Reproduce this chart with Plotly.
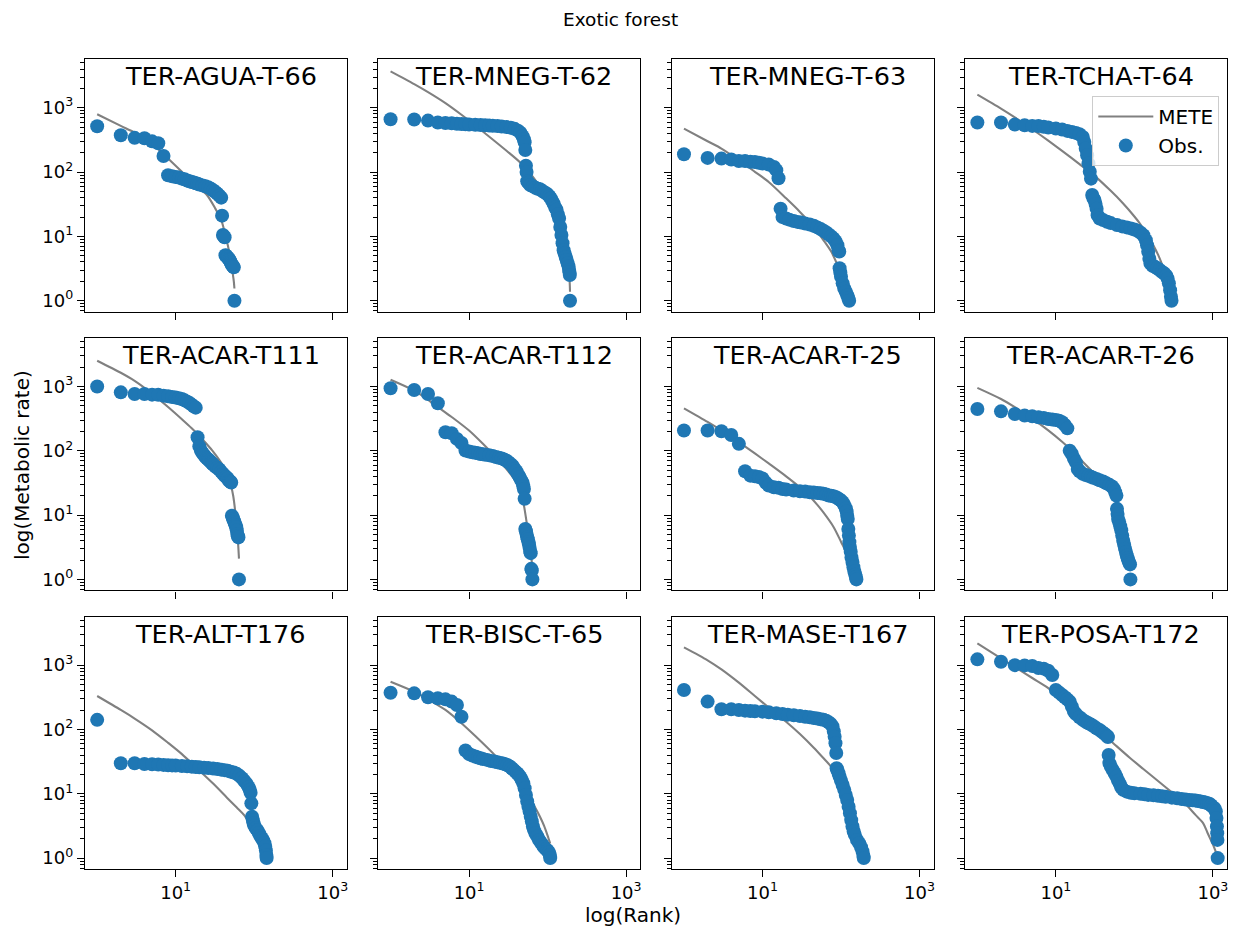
import plotly.graph_objects as go

# ---------------------------------------------------------------------------
# Ranked metabolic rates per plot (observed) and the METE prediction
# ---------------------------------------------------------------------------
plot_names = [
    "TER-AGUA-T-66", "TER-MNEG-T-62", "TER-MNEG-T-63", "TER-TCHA-T-64",
    "TER-ACAR-T111", "TER-ACAR-T112", "TER-ACAR-T-25", "TER-ACAR-T-26",
    "TER-ALT-T176", "TER-BISC-T-65", "TER-MASE-T167", "TER-POSA-T172",
]

agua66_rank = [1, 2, 3, 4, 5, 6, 7, 8, 9, 10, 11, 12, 13, 14, 15, 16, 17, 18, 19, 20,
               22, 24, 26, 28, 30, 32, 34, 36, 38, 39, 40, 41, 42, 43, 44, 45, 46, 47,
               48, 49, 50, 51, 52, 53, 54, 55, 56]
agua66_rate = [515, 374, 340, 335, 300, 280, 178, 89, 86, 84, 82, 79, 77, 74, 72, 70, 69, 67, 66, 64,
               62, 60, 58, 55, 52, 49, 46, 43, 40, 21, 10.5, 10, 9.7, 5.1, 5.0, 4.8, 4.7, 4.5,
               4.4, 4.2, 4.0, 3.8, 3.6, 3.5, 3.4, 3.3, 1.0]
agua66_mete_rank = [1, 2, 3, 5, 8, 12, 18, 25, 32, 38, 44, 48, 52, 55, 56]
agua66_mete_rate = [792, 522, 411, 277, 162, 101, 63, 44, 27, 18, 9.3, 5.8, 3.2, 2.0, 1.55]

mneg62_rank = [1, 2, 3, 4, 5, 6, 7, 8, 9, 10, 12, 14, 16, 18, 20, 23, 26, 30, 34, 38, 42, 45, 48, 50,
               51, 52, 53, 54, 55, 57, 60, 65, 70, 75, 80, 85, 90, 95, 100, 105, 110, 115, 120,
               125, 130, 135, 140, 145, 150, 155, 160, 165, 170, 175, 180, 185, 188, 190, 192, 193]
mneg62_rate = [662, 655, 631, 590, 580, 572, 565, 560, 555, 550, 545, 540, 535, 530, 525, 518, 510, 500,
               490, 470, 440, 410, 360, 320, 290, 220, 125, 100, 72, 68, 63, 60, 57, 55, 54, 51, 49, 47,
               45, 42, 39, 35, 32, 28, 26, 22, 19, 14, 10.5, 7.8, 6.1, 5.4, 4.8, 4.3, 3.8, 3.4, 3.0,
               2.8, 2.5, 1.0]
mneg62_mete_rank = [1, 2, 3, 5, 8, 12, 20, 30, 45, 60, 80, 100, 130, 160, 180, 190, 193]
mneg62_mete_rate = [3680, 2330, 1750, 1180, 778, 530, 321, 214, 140, 95, 59, 39, 20, 8.2, 4.0, 2.2, 1.38]

mneg63_rank = [1, 2, 3, 4, 5, 6, 7, 8, 9, 10, 12, 14, 15, 16, 17, 18, 20, 22, 25, 28, 31, 35, 40,
               45, 50, 55, 60, 65, 70, 75, 80, 85, 90, 93, 95, 96, 98, 100, 105, 110, 115, 120,
               124, 127]
mneg63_rate = [189, 166, 162, 157, 148, 148, 144, 143, 139, 136, 131, 120, 107, 80, 27, 20, 19, 18.2,
               17.3, 16.8, 16.4, 15.8, 15.3, 14.6, 13.8, 13, 12.2, 11.5, 10.7, 10, 9.3, 8.4, 7.3,
               6.1, 5.8, 3.2, 2.75, 2.36, 1.86, 1.55, 1.38, 1.22, 1.1, 1.0]
mneg63_mete_rank = [1, 2, 3, 5, 8, 12, 20, 30, 45, 60, 75, 90, 110, 127]
mneg63_mete_rate = [474, 301, 232, 153, 101, 70, 39, 24, 14, 8.7, 5.8, 3.6, 1.86, 1.15]

tcha64_rank = [1, 2, 3, 4, 5, 6, 7, 8, 10, 12, 14, 16, 18, 20, 22, 23, 24, 25, 26, 27, 28, 29, 30,
               31, 32, 33, 34, 36, 40, 45, 50, 60, 70, 80, 90, 100, 110, 120, 130, 140, 145, 150,
               155, 160, 170, 180, 195, 210, 225, 240, 255, 265, 275, 285, 292, 297]
tcha64_rate = [588, 588, 547, 535, 522, 520, 504, 492, 474, 458, 436, 421, 406, 387, 352, 294, 232,
               183, 136, 101, 79, 44, 39, 37, 32, 27, 21.4, 19, 17.9, 16.9, 16.1, 15, 14.3, 13.8,
               13.3, 12.8, 12.2, 11.4, 10.4, 8.7, 7.3, 5.8, 4.5, 3.8, 3.5, 3.4, 3.2, 3.0, 2.8,
               2.66, 2.44, 2.2, 1.86, 1.46, 1.15, 1.0]
tcha64_mete_rank = [1, 2, 3, 5, 8, 12, 20, 33, 50, 70, 100, 120, 150, 200, 250, 280, 297]
tcha64_mete_rate = [1600, 970, 708, 463, 308, 214, 133, 82, 51, 33.6, 20.4, 15.3, 10, 5.2, 2.6, 1.72, 1.31]

acar111_rank = [1, 2, 3, 4, 5, 6, 7, 8, 9, 10, 11, 12, 13, 14, 15, 16, 17, 18, 19, 20, 21, 22, 23,
                24, 25, 26, 27, 28, 29, 30, 32, 34, 36, 38, 40, 42, 44, 46, 48, 50, 51, 52, 53, 54,
                55, 56, 57, 58, 59, 60, 61, 62, 63, 64]
acar111_rate = [1000, 809, 762, 762, 745, 740, 719, 702, 685, 670, 653, 638, 608, 580, 553, 521, 490,
                468, 162, 117, 100, 92, 86, 80, 76, 73, 70, 67, 64, 61, 57, 54, 51, 47, 44, 41, 39,
                37, 34, 33, 32, 9.8, 9.3, 8.7, 8.2, 7.8, 7.3, 6.9, 6.5, 5.8, 5.1, 4.7, 4.5, 1.0]
acar111_mete_rank = [1, 2, 3, 5, 8, 12, 16, 20, 25, 30, 40, 48, 54, 58, 62, 64]
acar111_mete_rate = [2510, 1630, 1220, 773, 479, 309, 224, 170, 126, 97, 59, 37, 20, 10, 4.0, 2.1]

acar112_rank = [1, 2, 3, 4, 5, 6, 7, 8, 9, 10, 11, 12, 13, 14, 15, 16, 18, 20, 22, 24, 26, 28, 30,
                32, 34, 36, 38, 40, 42, 44, 46, 48, 49, 50, 51, 52, 53, 54, 55, 56, 57, 58, 59, 60,
                61, 62, 63, 64]
acar112_rate = [935, 881, 764, 547, 194, 187, 153, 132, 101, 97, 95, 93, 91.5, 89, 88, 87, 85, 83,
                80, 78, 76, 73, 70, 66, 62, 58, 52, 48, 43, 39, 35, 32, 28, 25.5, 17.9, 6.1, 5.6,
                5.1, 4.5, 4.2, 3.8, 3.5, 3.1, 2.7, 2.56, 1.46, 1.38, 1.0]
acar112_mete_rank = [1, 2, 3, 4, 6, 10, 15, 22, 30, 40, 48, 54, 60, 64]
acar112_mete_rate = [1270, 860, 620, 480, 335, 206, 128, 79, 52, 32, 17.9, 7.8, 3.4, 1.46]

acar25_rank = [1, 2, 3, 4, 5, 6, 7, 8, 9, 10, 11, 12, 14, 16, 18, 20, 25, 30, 35, 40, 45, 50, 55,
               60, 65, 70, 75, 80, 85, 90, 95, 100, 105, 110, 115, 118, 120, 122, 124, 126, 128,
               130, 133, 136, 140, 144, 148, 152, 155, 157]
acar25_rate = [206, 206, 201, 176, 128, 48, 41, 40, 39, 37, 32, 28.8, 27.1, 26.5, 25.5, 25, 24, 23.5,
               23.2, 22.7, 22.4, 22.1, 21.8, 21.4, 20.8, 20.1, 19.9, 19.6, 19.1, 18.5, 17.6, 16.8,
               15.9, 14.4, 12.8, 11.4, 9.8, 8.7, 6.1, 4.8, 3.8, 3.2, 2.7, 2.2, 1.86, 1.55, 1.33,
               1.18, 1.09, 1.0]
acar25_mete_rank = [1, 2, 3, 5, 8, 12, 20, 30, 40, 50, 60, 80, 100, 130, 157]
acar25_mete_rate = [457, 281, 207, 136, 91, 63.5, 40, 27, 19.4, 14.4, 10.9, 6.6, 3.86, 2.0, 1.05]

acar26_rank = [1, 2, 3, 4, 5, 6, 7, 8, 9, 10, 11, 12, 13, 14, 15, 16, 17, 18, 19, 20, 22, 24, 26,
               28, 30, 33, 36, 40, 44, 48, 52, 55, 57, 59, 60, 61, 62, 64, 66, 68, 70, 72, 74, 76,
               78, 80, 82, 84, 86, 88, 89]
acar26_rate = [446, 410, 373, 352, 343, 331, 324, 312, 305, 301, 294, 277, 252, 223, 100, 89, 75, 66,
               52, 48, 44, 42, 40.7, 39.3, 37.9, 36.5, 34.8, 33.2, 31.3, 29.5, 27.8, 25.5, 22.7,
               20.1, 12.5, 10.4, 8.7, 7.8, 6.7, 5.8, 4.8, 4.0, 3.45, 3.0, 2.66, 2.36, 2.14, 1.95,
               1.81, 1.71, 1.0]
acar26_mete_rank = [1, 2, 3, 5, 8, 12, 15, 20, 30, 40, 50, 60, 70, 80, 89]
acar26_mete_rate = [950, 637, 475, 315, 207, 138, 108, 76, 46, 32.5, 24, 15.1, 8.9, 4.8, 2.4]

alt176_rank = [1, 2, 3, 4, 5, 6, 7, 8, 9, 10, 12, 14, 16, 18, 20, 23, 26, 30, 34, 38, 42, 46, 50,
               55, 60, 65, 70, 75, 80, 85, 88, 90, 92, 94, 96, 98, 100, 105, 110, 115, 120, 125,
               130, 135, 138, 141, 143, 144]
alt176_rate = [141, 29.9, 29.9, 29.1, 28.8, 28.5, 28.1, 27.8, 27.6, 27.4, 27.1, 26.7, 26.4, 26.1,
               25.9, 25.5, 25.1, 24.7, 24.2, 23.7, 23.3, 22.9, 22.1, 21.4, 20.4, 19, 17.5, 15.8,
               14.3, 12.6, 11.5, 10.4, 7.1, 4.4, 3.9, 3.5, 3.2, 2.9, 2.7, 2.44, 2.2, 2.04, 1.88,
               1.71, 1.52, 1.31, 1.12, 1.0]
alt176_mete_rank = [1, 2, 3, 5, 8, 12, 20, 30, 45, 60, 75, 100, 125, 144]
alt176_mete_rate = [331, 201, 148, 97, 62, 41.3, 23, 14.4, 8.7, 6.1, 4.6, 2.6, 1.65, 1.15]

bisc65_rank = [1, 2, 3, 4, 5, 6, 7, 8, 9, 10, 11, 12, 13, 14, 15, 17, 19, 21, 23, 25, 27, 29, 31,
               33, 35, 37, 39, 41, 43, 45, 47, 49, 51, 53, 55, 57, 59, 61, 63, 65, 67, 70, 74, 78,
               82, 86, 90, 95, 100, 104, 107, 108]
bisc65_rate = [373, 364, 316, 305, 294, 271, 240, 158, 47, 41.6, 39.2, 37.9, 36.5, 35.7, 34.8, 33.6,
               32.4, 31.7, 30.9, 30.2, 29.5, 28.8, 27.8, 26.5, 25, 23.5, 22.1, 20.9, 19.7, 18.1,
               16.4, 14.6, 12.2, 9.6, 7.6, 6.3, 5.3, 4.4, 3.7, 3.1, 2.75, 2.44, 2.17, 1.92, 1.75,
               1.61, 1.48, 1.38, 1.31, 1.22, 1.12, 1.0]
bisc65_mete_rank = [1, 2, 3, 5, 8, 12, 20, 30, 40, 50, 60, 70, 80, 90, 100, 108]
bisc65_mete_rate = [553, 387, 294, 201, 125, 79, 43, 25, 16.4, 11.5, 8.3, 6.0, 4.4, 3.2, 2.24, 1.68]

mase167_rank = [1, 2, 3, 4, 5, 6, 7, 8, 10, 12, 15, 18, 21, 25, 30, 35, 40, 45, 50, 55, 60, 65, 70,
                74, 78, 81, 83, 85, 87, 88, 90, 93, 96, 100, 105, 110, 115, 120, 125, 130, 135,
                140, 145, 150, 160, 170, 180, 188, 193, 195]
mase167_rate = [410, 271, 206, 206, 201, 196, 194, 192, 189, 185, 178, 174, 170, 166, 162, 158, 155,
                151, 148, 144, 141, 136, 129, 122, 111, 93, 77, 61, 43, 25, 23.5, 20.9, 18.5, 16,
                13.7, 11.5, 9.6, 8.0, 6.3, 5.0, 3.9, 3.1, 2.6, 2.3, 1.92, 1.71, 1.48, 1.27, 1.09,
                1.0]
mase167_mete_rank = [1, 2, 3, 5, 8, 12, 20, 30, 45, 60, 80, 100, 130, 160, 195]
mase167_mete_rate = [1890, 1190, 859, 534, 331, 219, 132, 85, 52, 35.6, 24, 15.5, 7.6, 3.5, 1.35]

posa172_rank = [1, 2, 3, 4, 5, 6, 7, 8, 9, 10, 11, 12, 13, 14, 15, 16, 17, 18, 20, 22, 24, 26, 28,
                30, 33, 36, 39, 42, 45, 46, 47, 48, 50, 53, 56, 59, 62, 65, 68, 72, 80, 90, 100,
                120, 135, 150, 175, 200, 225, 250, 300, 350, 400, 450, 500, 550, 600, 650, 700,
                750, 800, 850, 900, 950, 1000, 1050, 1090, 1110, 1125, 1135, 1142, 1150]
posa172_rate = [1230, 1130, 1000, 990, 968, 902, 881, 820, 702, 411, 374, 343, 316, 294, 271, 226,
                189, 174, 155, 141, 132, 125, 119, 113, 104, 98, 91, 85, 79, 76, 40, 30, 26.5, 23.5,
                20.9, 18.5, 16, 14.3, 12.6, 11.5, 10.8, 10.4, 10.2, 10.0, 9.8, 9.6, 9.45, 9.3, 9.15,
                9.0, 8.7, 8.5, 8.3, 8.15, 8.0, 7.9, 7.85, 7.7, 7.6, 7.45, 7.3, 7.15, 7.0, 6.65, 6.2,
                5.9, 5.3, 4.2, 3.1, 2.44, 1.92, 1.0]
posa172_mete_rank = [1, 2, 3, 5, 8, 12, 20, 30, 50, 88, 130, 200, 300, 420, 600, 750, 850,
                     1000, 1080, 1150]
posa172_mete_rate = [2180, 1276, 935, 631, 440, 290, 172, 114, 66, 36, 24.3, 15.8, 10.5, 7.5,
                     4.7, 3.5, 2.5, 1.63, 1.28, 1.05]

observed = [
    (agua66_rank, agua66_rate), (mneg62_rank, mneg62_rate), (mneg63_rank, mneg63_rate),
    (tcha64_rank, tcha64_rate), (acar111_rank, acar111_rate), (acar112_rank, acar112_rate),
    (acar25_rank, acar25_rate), (acar26_rank, acar26_rate), (alt176_rank, alt176_rate),
    (bisc65_rank, bisc65_rate), (mase167_rank, mase167_rate), (posa172_rank, posa172_rate),
]
mete = [
    (agua66_mete_rank, agua66_mete_rate), (mneg62_mete_rank, mneg62_mete_rate),
    (mneg63_mete_rank, mneg63_mete_rate), (tcha64_mete_rank, tcha64_mete_rate),
    (acar111_mete_rank, acar111_mete_rate), (acar112_mete_rank, acar112_mete_rate),
    (acar25_mete_rank, acar25_mete_rate), (acar26_mete_rank, acar26_mete_rate),
    (alt176_mete_rank, alt176_mete_rate), (bisc65_mete_rank, bisc65_mete_rate),
    (mase167_mete_rank, mase167_mete_rate), (posa172_mete_rank, posa172_mete_rate),
]

x_tick_vals = [10, 1000]
x_tick_text = ["10<sup>1</sup>", "10<sup>3</sup>"]
y_tick_vals = [1, 10, 100, 1000]
y_tick_text = ["10<sup>0</sup>", "10<sup>1</sup>", "10<sup>2</sup>", "10<sup>3</sup>"]
y_minor_vals = [m * 10 ** e for e in range(-1, 4) for m in range(2, 10)]

# ---------------------------------------------------------------------------
# Layout geometry (pixels)
# ---------------------------------------------------------------------------
W, H = 1239, 932
col_left = [85.0, 378.4, 671.8, 965.2]
row_top = [59.3, 338.0, 616.7]
AX_W, AX_H = 262.0, 252.4
X_RANGE = [-0.155, 3.182]
Y_RANGE = [-0.171, 3.753]

FONT = "DejaVu Sans"
BLUE = "#1f77b4"
GREY = "#808080"

fig = go.Figure()
layout = {}
annotations = []

for i, name in enumerate(plot_names):
    r, c = divmod(i, 4)
    n = "" if i == 0 else str(i + 1)
    left, top = col_left[c], row_top[r]

    mr, mv = mete[i]
    fig.add_trace(go.Scatter(
        x=mr, y=mv, mode="lines", line=dict(color=GREY, width=2.1, shape="spline", smoothing=0.8),
        name="METE", legendgroup="mete", showlegend=(i == 0),
        xaxis="x" + n, yaxis="y" + n, hoverinfo="skip",
    ))
    orank, orate = observed[i]
    fig.add_trace(go.Scatter(
        x=orank, y=orate, mode="markers",
        marker=dict(color=BLUE, size=14, line=dict(width=0)),
        name="Obs.", legendgroup="obs", showlegend=(i == 0),
        xaxis="x" + n, yaxis="y" + n,
    ))

    axis_common = dict(
        type="log", showgrid=False, zeroline=False,
        showline=True, linecolor="black", linewidth=1.3, mirror=True,
        ticks="outside", ticklen=7, tickwidth=1.3, tickcolor="black",
        tickfont=dict(family=FONT, size=18, color="black"),
    )
    layout["xaxis" + n] = dict(
        axis_common,
        domain=[left / W, (left + AX_W) / W],
        anchor="y" + n, range=X_RANGE,
        tickmode="array", tickvals=x_tick_vals, ticktext=x_tick_text,
        showticklabels=(r == 2),
    )
    layout["yaxis" + n] = dict(
        axis_common,
        domain=[1 - (top + AX_H) / H, 1 - top / H],
        anchor="x" + n, range=Y_RANGE,
        tickmode="array", tickvals=y_tick_vals, ticktext=y_tick_text,
        showticklabels=(c == 0),
        minor=dict(tickmode="array", tickvals=y_minor_vals, ticks="outside",
                   ticklen=4, tickwidth=1, tickcolor="black"),
    )
    annotations.append(dict(
        text=name, x=(left + AX_W / 2 + 4.5) / W, y=1 - (top + 17) / H,
        xref="paper", yref="paper", xanchor="center", yanchor="middle",
        showarrow=False, font=dict(family=FONT, size=25.5, color="black"),
    ))

annotations += [
    dict(text="Exotic forest", x=620 / W, y=1 - 20 / H, xref="paper", yref="paper",
         xanchor="center", yanchor="middle", showarrow=False,
         font=dict(family=FONT, size=18.5, color="black")),
    dict(text="log(Rank)", x=632.5 / W, y=1 - 915 / H, xref="paper", yref="paper",
         xanchor="center", yanchor="middle", showarrow=False,
         font=dict(family=FONT, size=20, color="black")),
    dict(text="log(Metabolic rate)", x=22 / W, y=1 - 465 / H, xref="paper", yref="paper",
         xanchor="center", yanchor="middle", showarrow=False, textangle=-90,
         font=dict(family=FONT, size=20, color="black")),
]

fig.update_layout(
    width=W, height=H,
    margin=dict(l=0, r=0, t=0, b=0),
    paper_bgcolor="white", plot_bgcolor="white",
    font=dict(family=FONT, color="black"),
    annotations=annotations,
    showlegend=True,
    legend=dict(
        x=1219.3 / W, xanchor="right", y=1 - 96 / H, yanchor="top",
        bgcolor="rgba(255,255,255,0.8)", bordercolor="#cccccc", borderwidth=1,
        font=dict(family=FONT, size=20, color="black"),
        itemwidth=55, tracegroupgap=0,
    ),
    **layout,
)

fig.write_html("out.html")
